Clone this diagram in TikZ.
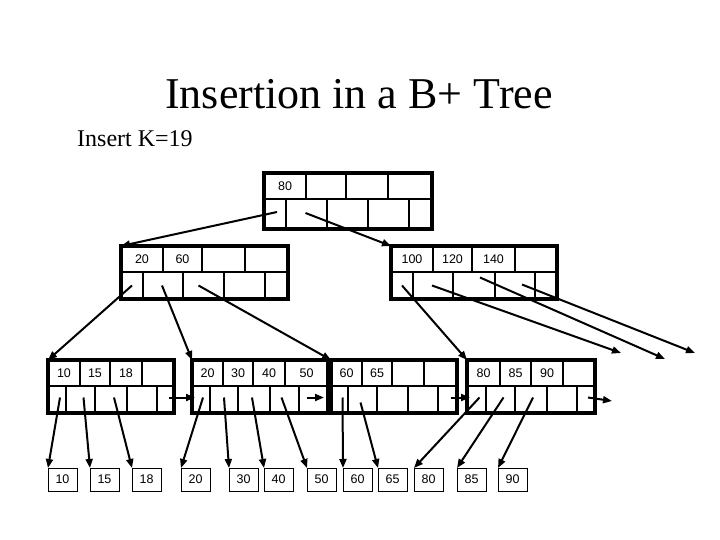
\documentclass[tikz,border=0pt]{standalone}
\usepackage{fontspec}
\setmainfont{Liberation Serif}
\newfontfamily\cellfont{Liberation Sans}
\usetikzlibrary{arrows.meta,fit}
\newcommand\krow[4]{%
  \foreach \xa/\xb/\t [count=\i] in {#4}{%
    \node[cell,minimum width={\xb-\xa},minimum height={#3-#2}] (#1-\i) at (\xa,#2) {\t};
  }}
\begin{document}
\begin{tikzpicture}[x=1pt,y=-1pt,
  cell/.style={draw,line width=2.2pt,inner sep=0pt,outer sep=0pt,anchor=north west,
    font=\cellfont\fontsize{12.5}{13}\selectfont},
  nodeframe/.style={draw,line width=3.6pt,inner sep=0pt,outer sep=0pt,fit=#1},
  leaf/.style={draw,line width=1pt,minimum width=29pt,minimum height=23pt,inner sep=0pt,
    outer sep=0pt,anchor=north west,font=\cellfont\fontsize{12.5}{13}\selectfont},
  ptr/.style={line width=2pt,-{Triangle[length=9pt,width=7pt]}}]
\useasboundingbox (0,0) rectangle (720,540);

\node[anchor=base,inner sep=0pt,font=\fontsize{44}{48}\selectfont] (title) at (359,109) {Insertion in a B+ Tree};
\node[anchor=base west,inner sep=0pt,font=\fontsize{24}{26}\selectfont] (sub) at (77,147) {Insert K=19};

% root
\krow{root-k}{173}{199}{264/306/80,306/346/,346/388/,388/432/}
\krow{root-p}{199}{229}{264/286/,286/327/,327/368/,368/409/,409/432/}
\node[nodeframe={(root-k-1)(root-p-5)}] (root) {};

% level 2
\krow{L-k}{246}{272}{121/163/20,163/202/60,202/245/,245/288/}
\krow{L-p}{272}{299}{121/143/,143/183/,183/224/,224/265/,265/288/}
\node[nodeframe={(L-k-1)(L-p-5)}] (L) {};

\krow{R-k}{246}{272}{391/433/100,433/472/120,472/515/140,515/557/}
\krow{R-p}{272}{299}{391/413/,413/453/,453/495/,495/535/,535/557/}
\node[nodeframe={(R-k-1)(R-p-5)}] (R) {};

% level 3
\krow{A-k}{360}{386}{48/80/10,80/110/15,110/142/18,142/174/}
\krow{A-p}{386}{413}{48/66/,66/95/,95/127/,127/157/,157/174/}
\node[nodeframe={(A-k-1)(A-p-5)}] (A) {};

\krow{B-k}{360}{386}{192/223/20,223/253/30,253/285/40,285/328/50}
\krow{B-p}{386}{413}{192/210/,210/238/,238/270/,270/299/,299/328/}
\node[nodeframe={(B-k-1)(B-p-5)}] (B) {};

\krow{C-k}{360}{386}{331/362/60,362/392/65,392/424/,424/457/}
\krow{C-p}{386}{413}{331/348/,348/377/,377/408/,408/438/,438/457/}
\node[nodeframe={(C-k-1)(C-p-5)}] (C) {};

\krow{D-k}{360}{386}{467/500/80,500/531/85,531/563/90,563/595/}
\krow{D-p}{386}{413}{467/486/,486/515/,515/547/,547/577/,577/595/}
\node[nodeframe={(D-k-1)(D-p-5)}] (D) {};

% leaves
\node[leaf] (l10) at (48,468) {10};
\node[leaf] (l15) at (90,468) {15};
\node[leaf] (l18) at (132,468) {18};
\node[leaf] (l20) at (181,468) {20};
\node[leaf] (l30) at (229,468) {30};
\node[leaf] (l40) at (264,468) {40};
\node[leaf] (l50) at (307,468) {50};
\node[leaf] (l60) at (343,468) {60};
\node[leaf] (l65) at (378,468) {65};
\node[leaf] (l80) at (414,468) {80};
\node[leaf] (l85) at (457,468) {85};
\node[leaf] (l90) at (498,468) {90};

% dangling ends
\coordinate (d1) at (621,353);
\coordinate (d2) at (665,359);
\coordinate (d3) at (695,353);
\coordinate (d4) at (612,401);

% pointers
\draw[ptr] ([xshift=2pt,yshift=2pt]root-p-1.center) -- (L.north west);
\draw[ptr] ([xshift=-1pt,yshift=1pt]root-p-2.center) -- (R.north west);

\draw[ptr] (L-p-1.center) -- (A.north west);
\draw[ptr] ([xshift=-1pt]L-p-2.center) -- (B.north west);
\draw[ptr] ([xshift=-5pt]L-p-3.center) -- (C.north west);

\draw[ptr] (R-p-1.center) -- (D.north west);
\draw[ptr] ([xshift=-1pt]R-p-2.center) -- (d1);
\draw[ptr] ([xshift=6pt,yshift=8pt]R-p-3.center) -- (d2);
\draw[ptr] ([xshift=7pt,yshift=1pt]R-p-4.center) -- (d3);

\draw[ptr] ([xshift=3pt,yshift=2pt]A-p-1.center) -- (l10.north west);
\draw[ptr] ([xshift=3pt,yshift=2pt]A-p-2.center) -- (l15.north west);
\draw[ptr] ([xshift=3pt,yshift=2pt]A-p-3.center) -- (l18.north west);
\draw[ptr] ([xshift=3pt,yshift=2pt]A-p-5.center) -- ([xshift=3pt,yshift=2pt]A-p-5.center -| B.west);

\draw[ptr] ([xshift=2pt,yshift=2pt]B-p-1.center) -- (l20.north west);
\draw[ptr] ([yshift=2pt]B-p-2.center) -- (l30.north west);
\draw[ptr] ([xshift=-2pt,yshift=2pt]B-p-3.center) -- (l40.north west);
\draw[ptr] ([xshift=-3pt,yshift=2pt]B-p-4.center) -- (l50.north west);
\draw[ptr] ([xshift=-7pt,yshift=2pt]B-p-5.center) -- ([xshift=-7pt,yshift=2pt]B-p-5.center -| C.west);

\draw[ptr] ([xshift=3pt,yshift=2pt]C-p-1.center) -- (l60.north west);
\draw[ptr] ([xshift=-2pt,yshift=-3pt]C-p-2.center) -- (l65.north west);
\draw[ptr] ([xshift=3pt,yshift=2pt]C-p-5.center) -- ([xshift=3pt,yshift=2pt]C-p-5.center -| D.west);

\draw[ptr] ([xshift=3pt,yshift=2pt]D-p-1.center) -- (l80.north west);
\draw[ptr] ([xshift=3pt,yshift=2pt]D-p-2.center) -- (l85.north west);
\draw[ptr] ([xshift=2pt,yshift=2pt]D-p-3.center) -- (l90.north west);
\draw[ptr] ([xshift=2pt,yshift=2pt]D-p-5.center) -- (d4);
\end{tikzpicture}
\end{document}
